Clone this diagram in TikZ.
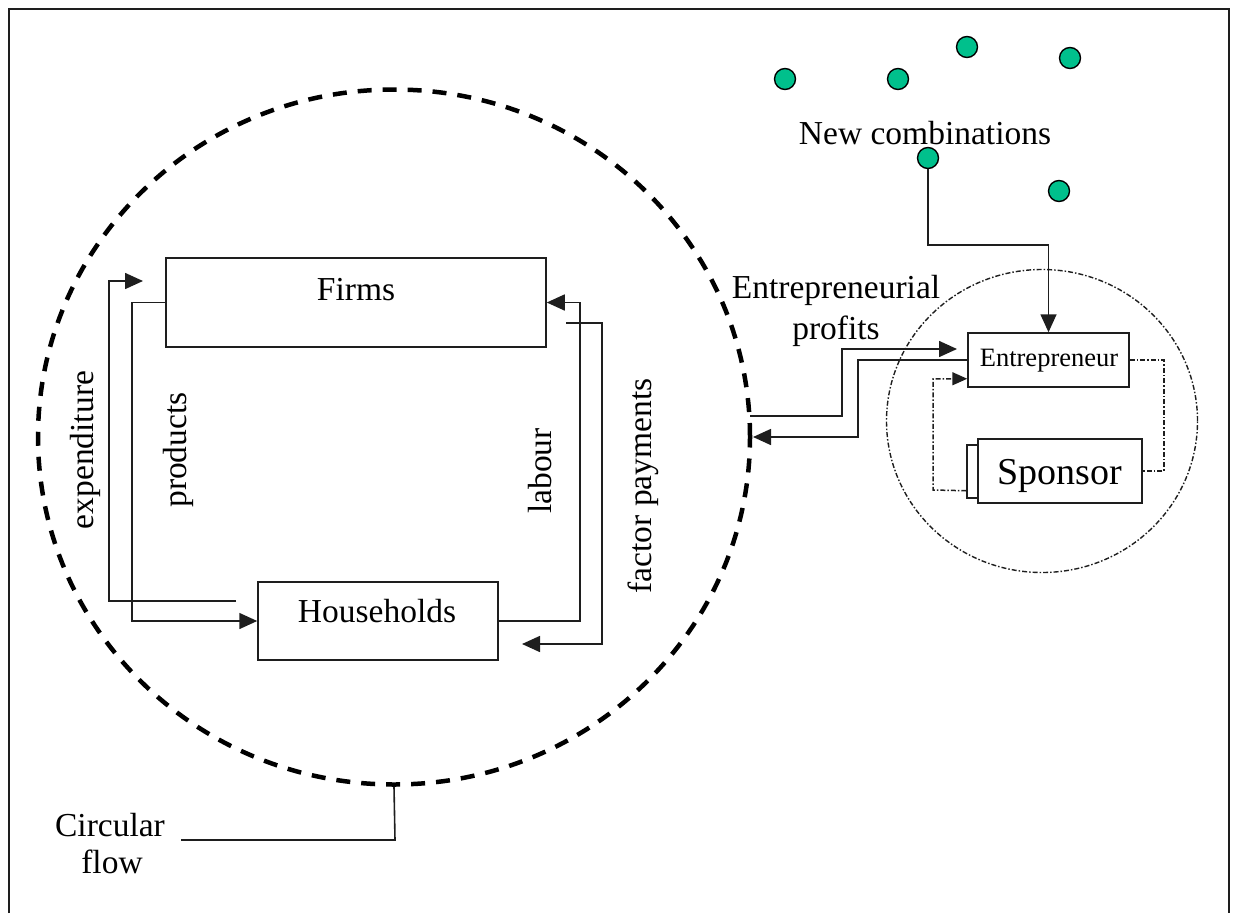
\documentclass[tikz,border=0pt]{standalone}
\usepackage{fontspec}
\setmainfont{Liberation Serif}
\usetikzlibrary{arrows.meta,shapes.geometric,calc}
\definecolor{dotgreen}{RGB}{0,192,140}
\definecolor{ink}{RGB}{30,30,30}
\begin{document}
\begin{tikzpicture}[x=1pt,y=-1pt,
  box/.style={draw=ink, line width=1.5pt, inner sep=0pt, fill=white},
  lbl/.style={font=\fontsize{33.5}{38}\selectfont, inner sep=0pt},
  conn/.style={draw=ink, line width=1.6pt},
  arr/.style={conn, -{Triangle[length=18pt,width=16pt]}},
  dotn/.style={circle, draw=black, line width=1.4pt, fill=dotgreen, minimum size=21pt, inner sep=0pt},
  dashdot/.style={draw=ink, line width=1.5pt, dash pattern=on 5pt off 2pt on 1.5pt off 2pt},
]
\useasboundingbox (0,0) rectangle (1257,913);
% frame
\draw[draw=ink, line width=2pt] (9,913) -- (9,9) -- (1229,9) -- (1229,913);

% big circular flow
\node[ellipse, draw=black, line width=4.5pt, dash pattern=on 14pt off 11pt,
      minimum width=712pt, minimum height=695pt, inner sep=0pt] (cf) at (394,437) {};
% small circle
\node[ellipse, dashdot, line width=1.4pt, minimum width=311pt, minimum height=303pt, inner sep=0pt] (sc) at (1042,421) {};

% boxes
\node[box, minimum width=380pt, minimum height=89pt] (firms) at (356,302.5) {};
\node[lbl, anchor=base] (firmslbl) at (356,300) {Firms};
\node[box, minimum width=240pt, minimum height=78pt] (households) at (378,621) {};
\node[lbl, anchor=base] (hhlbl) at (377,622) {Households};
\node[box, minimum width=161pt, minimum height=54pt] (entre) at (1048.5,360) {};
\node[lbl, anchor=base, font=\fontsize{26.5}{30}\selectfont] (entrelbl) at (1049,366) {Entrepreneur};
\node[box, minimum width=163pt, minimum height=53pt] (sponsorback) at (1048.5,471.5) {};
\node[box, line width=1.8pt, minimum width=164pt, minimum height=64pt] (sponsor) at (1060,471) {};
\node[lbl, anchor=base, font=\fontsize{38}{44}\selectfont] (sponsorlbl) at (1060,484) {Sponsor};

% dots
\node[dotn] (d1) at (785,79) {};
\node[dotn] (d2) at (898,79) {};
\node[dotn] (d3) at (967,47) {};
\node[dotn] (d4) at (1070,58) {};
\node[dotn] (d5) at (928,158) {};
\node[dotn] (d6) at (1059,191) {};

% labels
\node[lbl, anchor=base] (newcomb) at (925,144) {New combinations};
\node[lbl, anchor=base] (entprof1) at (836,298) {Entrepreneurial};
\node[lbl, anchor=base] (entprof2) at (836,339) {profits};
\node[lbl, rotate=90] (expl) at (85,450) {expenditure};
\node[lbl, rotate=90] (prodl) at (178,450) {products};
\node[lbl, rotate=90] (labl) at (540,471) {labour};
\node[lbl, rotate=90] (fpl) at (643,486) {factor payments};
\node[lbl, anchor=base] (circ1) at (110,836) {Circular};
\node[lbl, anchor=base] (circ2) at (112,873) {flow};

% coordinates for free ends
\coordinate (expS) at (236,601);
\coordinate (expE) at (143,281);
\coordinate (fpS) at (566,323);
\coordinate (fpE) at (522,644);
\coordinate (cfA) at (750,416);
\coordinate (cfB) at (753,437);
\coordinate (entA) at (957,349);
\coordinate (circEnd) at (181,840);

% circular flow connectors
\draw[arr] (expS) -- (109,601) |- (expE);
\draw[arr] (firms.west) -- (132,302.5) |- (households.west);
\draw[arr] (households.east) -- (580,621) |- (firms.east);
\draw[arr] (fpS) -- (602,323) |- (fpE);

% entrepreneurial profits
\draw[arr] (cfA) -- (842,416) |- (entA);
\draw[arr] (entre.west) -- (858,360) |- (cfB);

% sponsor loops
\draw[dashdot, -{Triangle[length=15pt,width=13pt]}] ($(sponsorback.south west)+(0,-8)$) -- (933,490) |- ($(entre.south west)+(0,-9)$);
\draw[dashdot] (entre.east) -- (1164,360) |- (sponsor.east);

% new combinations arrow
\draw[arr] (d5.south) -- (928,245) -| (entre.north);

% circular flow leader
\draw[conn] (cf.south) -- (395,840) -- (circEnd);
\end{tikzpicture}
\end{document}
